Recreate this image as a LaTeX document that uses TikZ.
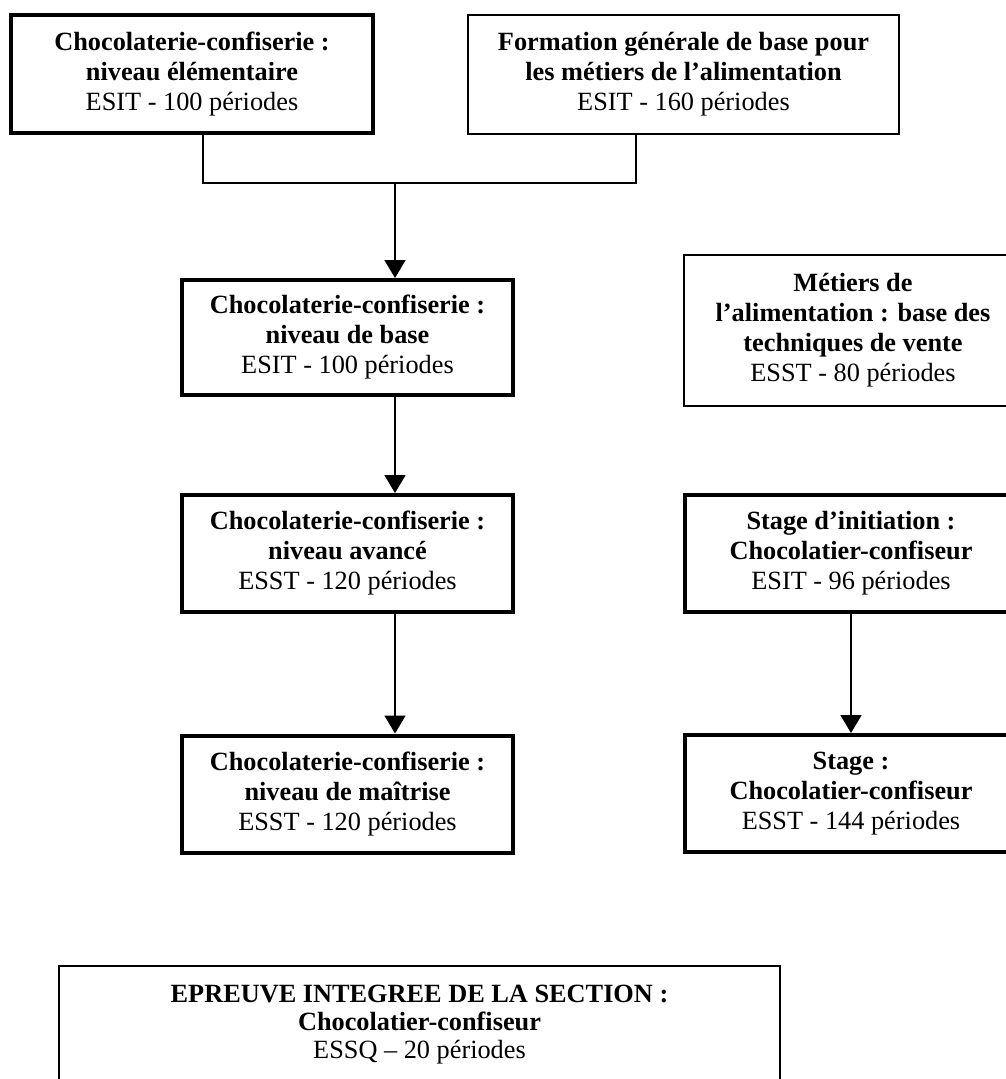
\documentclass[tikz,border=0pt]{standalone}
\usepackage{fontspec}
\setmainfont{Liberation Serif}
\usetikzlibrary{arrows.meta,calc}
\tikzset{
  boxbase/.style={draw=black, align=center, inner sep=0pt, font=\fontsize{26.3}{30}\selectfont},
  thickbox/.style={boxbase, line width=4pt},
  thinbox/.style={boxbase, line width=2pt},
  textonly/.style={align=center, inner sep=0pt, font=\fontsize{26.3}{28}\selectfont},
  thinline/.style={line width=2pt},
  conn/.style={line width=1.8pt},
  arr/.style={conn, -{Triangle[width=21pt,length=18pt]}}
}
\begin{document}
\begin{tikzpicture}[x=1pt,y=-1pt]
\useasboundingbox (0,0) rectangle (1006,1079);
\clip (0,0) rectangle (1006,1079);
\node[thickbox, minimum width=362pt, minimum height=118pt] (b1) at (192,74)
  {\textbf{Chocolaterie-confiserie :}\\\textbf{niveau élémentaire}\\ESIT - 100 périodes};
\node[thinbox, minimum width=431pt, minimum height=119pt] (b2) at (683.5,74)
  {\textbf{Formation générale de base pour}\\\textbf{les métiers de l’alimentation}\\ESIT - 160 périodes};
\node[thickbox, minimum width=331pt, minimum height=115pt] (b3) at (347.5,337.5)
  {\textbf{Chocolaterie-confiserie :}\\\textbf{niveau de base}\\ESIT - 100 périodes};
\node[thickbox, minimum width=331pt, minimum height=117pt] (b4) at (347.5,553.5)
  {\textbf{Chocolaterie-confiserie :}\\\textbf{niveau avancé}\\ESST - 120 périodes};
\node[thickbox, minimum width=331pt, minimum height=117pt] (b5) at (347.5,794)
  {\textbf{Chocolaterie-confiserie :}\\\textbf{niveau de maîtrise}\\ESST - 120 périodes};
\node[thinbox, minimum width=338pt, minimum height=151pt] (m) at (853,330.5)
  {\textbf{Métiers de}\\\textbf{l’alimentation : base des}\\\textbf{techniques de vente}\\ESST - 80 périodes};
\node[thickbox, minimum width=332pt, minimum height=117pt] (s1) at (851,553.5)
  {\textbf{Stage d’initiation :}\\\textbf{Chocolatier-confiseur}\\ESIT - 96 périodes};
\node[thickbox, minimum width=332pt, minimum height=117pt] (s2) at (851,793.5)
  {\textbf{Stage :}\\\textbf{Chocolatier-confiseur}\\ESST - 144 périodes};
\node[textonly] (f) at (419.5,1025)
  {\textbf{EPREUVE INTEGREE DE LA SECTION :}\\\textbf{Chocolatier-confiseur}\\ESSQ – 20 périodes};
\draw[thinline] ($(f.center)+(-360.5,-59)$) rectangle ($(f.center)+(360.5,90)$);
\coordinate (j1) at (203,183);
\coordinate (j2) at (636,183);
\coordinate (j3) at (395,183);
\draw[conn] (b1.south -| j1) -- (j1) -- (j2) -- (b2.south -| j2);
\draw[arr] (j3) -- (b3.north -| j3);
\draw[arr] (b3.south -| j3) -- (b4.north -| j3);
\draw[arr] (b4.south -| j3) -- (b5.north -| j3);
\draw[arr] (s1.south) -- (s2.north);
\end{tikzpicture}
\end{document}
